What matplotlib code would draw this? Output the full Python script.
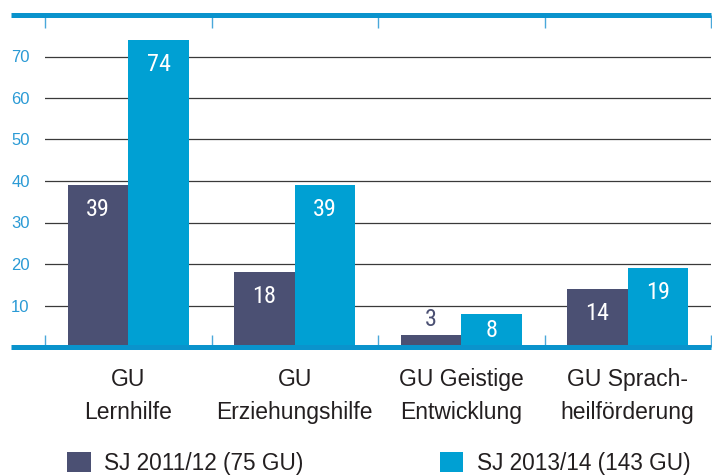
import matplotlib
matplotlib.use("Agg")
import matplotlib.pyplot as plt
from matplotlib import font_manager as fm
import numpy as np

# ── Data ──────────────────────────────────────────────────────────────────────
categories = ["GU\nLernhilfe", "GU\nErziehungshilfe",
              "GU Geistige\nEntwicklung", "GU Sprach-\nheilförderung"]
series_names = ["SJ 2011/12 (75 GU)", "SJ 2013/14 (143 GU)"]
values_2011 = [39, 18, 3, 14]
values_2013 = [74, 39, 8, 19]
y_ticks = [10, 20, 30, 40, 50, 60, 70]

# ── Styling ───────────────────────────────────────────────────────────────────
DARK = "#4b5073"
CYAN = "#00a0d3"
RULE = "#0a93cc"
TICK_BLUE = "#2a9ad5"
TEXT = "#231f20"
GRID = "#3a3a3a"
SANS = ["Liberation Sans", "DejaVu Sans"]


def _is_condensed(f):
    return (f.stretch in ("condensed", "semi-condensed", 75, 87.5)
            or "Narrow" in f.name or "Condensed" in f.name
            or "Narrow" in f.fname or "Condensed" in f.fname)


def _narrow_font():
    """Pick a Helvetica-like condensed face if installed, else plain sans."""
    cands = [f for f in fm.fontManager.ttflist
             if f.style == "normal" and _is_condensed(f)]
    for name in ("Liberation Sans Narrow", "Roboto Condensed"):
        for w in (400, "normal", 500):
            for f in cands:
                if f.name == name and f.weight == w:
                    return fm.FontProperties(fname=f.fname)
    if cands:
        return fm.FontProperties(fname=cands[0].fname)
    return fm.FontProperties(family=SANS)


NARROW = _narrow_font()

W, H = 712, 476
fig = plt.figure(figsize=(W / 100, H / 100), dpi=100)
ax = fig.add_axes([45 / W, 1 - 347 / H, 666 / W, 332 / H])

x = np.arange(len(categories))
bw = 0.364
bars1 = ax.bar(x - bw / 2, values_2011, bw, color=DARK, zorder=3,
               label=series_names[0])
bars2 = ax.bar(x + bw / 2, values_2013, bw, color=CYAN, zorder=3,
               label=series_names[1])

ax.set_xlim(-0.5, len(categories) - 0.5)
ax.set_ylim(0, 80)

# gridlines
for t in y_ticks:
    ax.axhline(t, color=GRID, linewidth=0.9, zorder=1)

# heavy blue rules top and bottom (stick out a bit to the left)
for yv in (0, 80):
    ax.plot([-0.051, 1.0], [yv, yv], transform=ax.get_yaxis_transform(),
            color=RULE, linewidth=3.6, clip_on=False, zorder=4,
            solid_capstyle="butt")
for s in ax.spines.values():
    s.set_visible(False)

# y ticks
ax.set_yticks(y_ticks)
ax.set_yticklabels([str(t) for t in y_ticks], family=SANS, fontsize=12,
                   color=TICK_BLUE)
ax.tick_params(axis="y", length=0, pad=11)

# category separators as inward ticks top and bottom
ax.set_xticks(np.arange(len(categories) + 1) - 0.5)
ax.set_xticklabels([])
ax.tick_params(axis="x", direction="in", length=9, width=1, color="#4aa8da",
               top=True, bottom=True)

# value labels
for bars, vals in ((bars1, values_2011), (bars2, values_2013)):
    for b, v in zip(bars, vals):
        cx = b.get_x() + b.get_width() / 2
        if v < 5:
            off, col = 11, DARK
        elif v < 10:
            off, col = -12, "white"
        else:
            off, col = -17.5, "white"
        t = ax.annotate(str(v), xy=(cx, v), xytext=(0, off),
                        textcoords="offset points", ha="center", va="center",
                        color=col, zorder=5, fontproperties=NARROW)
        t.set_fontsize(17.5)

# category labels (two lines each)
xt = ax.get_xaxis_transform()
for xi, lab in zip(x, categories):
    l1, l2 = lab.split("\n")
    ax.text(xi, -0.099, l1, transform=xt, ha="center", va="center",
            fontsize=16.5, color=TEXT, family=SANS)
    ax.text(xi, -0.196, l2, transform=xt, ha="center", va="center",
            fontsize=16.5, color=TEXT, family=SANS)

# legend
fig.legend(handles=[bars1, bars2], labels=series_names, ncol=2,
           loc="lower left", bbox_to_anchor=(66 / W, 0.0), frameon=False,
           prop={"family": SANS, "size": 16.3}, handlelength=1.05,
           handleheight=1.0, handletextpad=0.6, columnspacing=6.0,
           borderpad=0.05, borderaxespad=0.0, labelcolor=TEXT)

fig.savefig("out.png", dpi=100, facecolor="white")
